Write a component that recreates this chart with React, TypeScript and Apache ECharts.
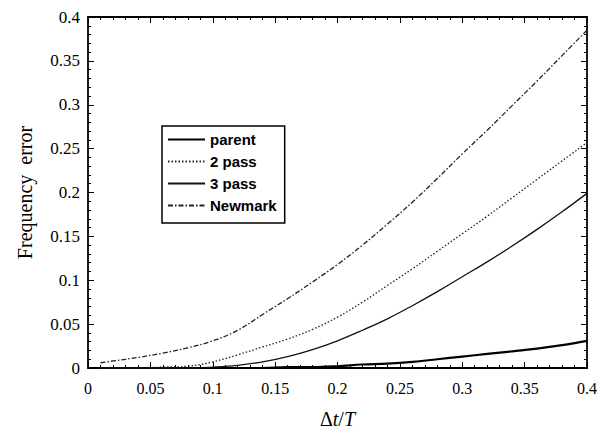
import React, { useEffect, useRef } from "react";
import * as echarts from "echarts";

const xs = [0.01, 0.02, 0.04, 0.06, 0.08, 0.1, 0.12, 0.14, 0.16, 0.18, 0.2, 0.22, 0.24, 0.26, 0.28, 0.3, 0.32, 0.34, 0.36, 0.38, 0.4];
const parent = [0, 0, 0, 0, 0, 0, 0, 0, 0.001, 0.001, 0.002, 0.004, 0.005, 0.007, 0.01, 0.013, 0.016, 0.019, 0.022, 0.026, 0.031];
const pass2 = [0, 0, 0, 0.001, 0.002, 0.007, 0.015, 0.024, 0.033, 0.044, 0.058, 0.075, 0.094, 0.113, 0.133, 0.153, 0.173, 0.194, 0.215, 0.236, 0.257];
const pass3 = [0, 0, 0, 0, 0, 0.001, 0.003, 0.007, 0.013, 0.021, 0.031, 0.043, 0.056, 0.071, 0.087, 0.104, 0.121, 0.139, 0.158, 0.178, 0.199];
const newmark = [0.006, 0.008, 0.012, 0.017, 0.023, 0.031, 0.043, 0.061, 0.079, 0.098, 0.118, 0.14, 0.164, 0.189, 0.216, 0.244, 0.271, 0.299, 0.327, 0.356, 0.385];
const seriesNames = ["parent", "2 pass", "3 pass", "Newmark"];

const pairs = (ys: number[]) => xs.map((x, i) => [x, ys[i]]);

export default function App() {
  const ref = useRef<HTMLDivElement>(null);
  useEffect(() => {
    if (!ref.current) return;
    const chart = echarts.init(ref.current, null, { renderer: "svg" });
    const serif = "Liberation Serif";
    const makeAxis = (position: string, showLabel: boolean, margin: number, size: number) => ({
      type: "value",
      position,
      min: 0,
      max: 0.4,
      interval: 0.05,
      axisLine: { show: true, onZero: false, lineStyle: { color: "#000", width: 1.8 } },
      axisTick: { show: true, inside: true, length: 6, lineStyle: { color: "#000", width: 1 } },
      minorTick: { show: true, splitNumber: 5, length: 3, lineStyle: { color: "#000", width: 1 } },
      splitLine: { show: false },
      axisLabel: { show: showLabel, color: "#000", fontFamily: serif, fontSize: size, margin },
    });
    chart.setOption({
      animation: false,
      backgroundColor: "#fff",
      grid: { left: 88, right: 10, top: 17, bottom: 59 },
      legend: {
        orient: "vertical",
        left: 162,
        top: 126,
        width: 131,
        data: seriesNames,
        itemWidth: 37,
        itemHeight: 14,
        itemGap: 7,
        padding: [6, 8, 10, 5],
        borderColor: "#000",
        borderWidth: 1.5,
        itemStyle: { opacity: 0 },
        textStyle: { color: "#000", fontFamily: "Liberation Sans", fontWeight: "bold", fontSize: 15 },
      },
      xAxis: [
        {
          ...makeAxis("bottom", true, 12, 16),
          name: "{a|Δ}{b|t}{a|/}{b|T}",
          nameLocation: "middle",
          nameGap: 41,
          nameTextStyle: {
            rich: {
              a: { fontFamily: serif, fontSize: 20, color: "#000" },
              b: { fontFamily: serif, fontSize: 20, fontStyle: "italic", color: "#000" },
            },
          },
        },
        makeAxis("top", false, 8, 16),
      ],
      yAxis: [
        {
          ...makeAxis("left", true, 8, 17),
          name: "Frequency  error",
          nameLocation: "middle",
          nameGap: 53,
          nameTextStyle: { fontFamily: serif, fontSize: 20, color: "#000" },
        },
        makeAxis("right", false, 8, 16),
      ],
      series: [
        {
          name: seriesNames[0],
          type: "line",
          symbol: "none",
          smooth: 0.4,
          data: pairs(parent),
          lineStyle: { color: "#000", width: 2.2, type: "solid" },
          itemStyle: { color: "#000" },
        },
        {
          name: seriesNames[1],
          type: "line",
          symbol: "none",
          smooth: 0.4,
          data: pairs(pass2),
          lineStyle: { color: "#222", width: 1.3, type: [1.5, 2] },
          itemStyle: { color: "#222" },
        },
        {
          name: seriesNames[2],
          type: "line",
          symbol: "none",
          smooth: 0.4,
          data: pairs(pass3),
          lineStyle: { color: "#111", width: 1.3, type: "solid" },
          itemStyle: { color: "#111" },
        },
        {
          name: seriesNames[3],
          type: "line",
          symbol: "none",
          smooth: 0.4,
          data: pairs(newmark),
          lineStyle: { color: "#222", width: 1.3, type: [5, 2, 1.5, 2] },
          itemStyle: { color: "#222" },
        },
      ],
    });
    return () => chart.dispose();
  }, []);
  return <div ref={ref} style={{ position: "absolute", left: 0, top: 0, width: 600, height: 434 }} />;
}
